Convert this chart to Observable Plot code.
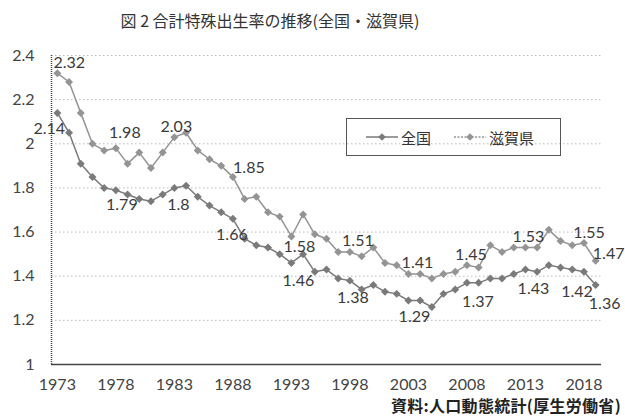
<!DOCTYPE html>
<html><head><meta charset="utf-8">
<script src="https://cdn.jsdelivr.net/npm/d3@7"></script>
<script src="https://cdn.jsdelivr.net/npm/@observablehq/plot@0.6"></script>
<style>
html,body{margin:0;padding:0;background:#fff;}
#wrap{position:relative;width:625px;height:418px;overflow:hidden;background:#fff;font-family:"Noto Sans CJK JP",sans-serif;color:#333;}
#title{position:absolute;left:0;top:9px;width:540px;text-align:center;font-size:16px;line-height:22px;}
#chart{position:absolute;left:0;top:40px;}
#caption{position:absolute;right:4px;top:396px;font-size:16px;font-weight:bold;line-height:18px;color:#222;white-space:nowrap;letter-spacing:0.3px;}
#legend{position:absolute;left:346px;top:118px;width:215px;height:38px;border:1.5px solid #555;box-sizing:border-box;font-size:15px;}
#legend .item{position:absolute;top:8px;display:flex;align-items:center;height:20px;}
</style></head>
<body><div id="wrap">
<div id="title">図 2 合計特殊出生率の推移(全国・滋賀県)</div>
<div id="chart"></div>
<div id="legend"></div>
<div id="caption">資料:人口動態統計(厚生労働省)</div>
</div>
<script>
const years = [1973,1974,1975,1976,1977,1978,1979,1980,1981,1982,1983,1984,1985,1986,1987,1988,1989,1990,1991,1992,1993,1994,1995,1996,1997,1998,1999,2000,2001,2002,2003,2004,2005,2006,2007,2008,2009,2010,2011,2012,2013,2014,2015,2016,2017,2018,2019];
const zenkoku = [2.14,2.05,1.91,1.85,1.80,1.79,1.77,1.75,1.74,1.77,1.80,1.81,1.76,1.72,1.69,1.66,1.57,1.54,1.53,1.50,1.46,1.50,1.42,1.43,1.39,1.38,1.34,1.36,1.33,1.32,1.29,1.29,1.26,1.32,1.34,1.37,1.37,1.39,1.39,1.41,1.43,1.42,1.45,1.44,1.43,1.42,1.36];
const shiga = [2.32,2.28,2.14,2.00,1.97,1.98,1.91,1.96,1.89,1.96,2.03,2.05,1.97,1.93,1.90,1.85,1.75,1.76,1.69,1.67,1.58,1.68,1.59,1.57,1.51,1.51,1.49,1.53,1.46,1.45,1.41,1.41,1.39,1.41,1.42,1.45,1.44,1.54,1.51,1.53,1.53,1.53,1.61,1.56,1.54,1.55,1.47];
const seriesNames = ["全国","滋賀県"];
const labelYears = [1973,1978,1983,1988,1993,1998,2003,2008,2013,2018,2019];
const xTicks = [1973,1978,1983,1988,1993,1998,2003,2008,2013,2018];
const yTicks = [1,1.2,1.4,1.6,1.8,2,2.2,2.4];

const rows = [];
years.forEach((y,i)=>{
  rows.push({year:y, value:zenkoku[i], series:seriesNames[0]});
  rows.push({year:y, value:shiga[i], series:seriesNames[1]});
});

// label placement (offsets from point, px)
const offsets = {
  "全国": {1973:[-8,16],1978:[6,15],1983:[4,17],1988:[-1,16],1993:[7,18],1998:[3,17],2003:[6,16],2008:[11,19],2013:[8,19],2018:[-7,20],2019:[9,19]},
  "滋賀県": {1973:[12,-10],1978:[9,-15],1983:[2,-10],1988:[16,-9],1993:[8,10],1998:[8,-11],2003:[9,-11],2008:[4,-10],2013:[3,-11],2018:[5,-10],2019:[13,-7]}
};
const lineColor = {"全国":"#7a7a7a","滋賀県":"#949494"};

const labelMarks = [];
for (const s of seriesNames) {
  for (const r of rows.filter(r => r.series === s && labelYears.includes(r.year))) {
    const [dx, dy] = offsets[s][r.year];
    labelMarks.push(Plot.text([r], {x:"year", y:"value", text: d => String(d.value), dx, dy,
      fill:"#3a3a3a", fontSize:16, textAnchor:"middle"}));
  }
}

const chart = Plot.plot({
  width: 625, height: 358,
  marginTop: 15, marginBottom: 34, marginLeft: 51, marginRight: 24,
  style: {fontFamily: "Lato, 'Liberation Sans', sans-serif", fontSize: "16px", color: "#444", background: "transparent"},
  x: {domain: [1972.5, 2019.5], ticks: xTicks, tickSize: 0, tickPadding: 14, tickFormat: d => String(d), label: null},
  y: {domain: [1, 2.4], ticks: yTicks, tickSize: 0, tickPadding: 17, tickFormat: d => String(d), label: null},
  marks: [
    Plot.ruleY(yTicks.filter(d => d > 1), {stroke: "#b8b8b8", strokeDasharray: "1.5,2.5", strokeWidth: 1}),
    Plot.ruleX([1972.5], {y1: 1, y2: 2.4, stroke: "#444", strokeDasharray: "1,1", strokeWidth: 1.5}),
    Plot.ruleY([1], {stroke: "#444", strokeWidth: 1.5}),
    Plot.line(rows, {x: "year", y: "value", z: "series", stroke: d => lineColor[d.series], strokeWidth: 1.5}),
    Plot.dot(rows, {x: "year", y: "value", symbol: "diamond2", r: 3.6, fill: d => lineColor[d.series], stroke: "none"}),
    ...labelMarks
  ]
});
document.getElementById("chart").appendChild(chart);

// legend
const leg = document.getElementById("legend");
const items = [
  {name: seriesNames[0], left: 19, dash: null},
  {name: seriesNames[1], left: 107, dash: "2,1.5"}
];
for (const it of items) {
  const div = document.createElement("div");
  div.className = "item";
  div.style.left = it.left + "px";
  div.innerHTML = `<svg width="32" height="12" style="margin-right:3px"><line x1="0" y1="6" x2="32" y2="6" stroke="${lineColor[it.name]}" stroke-width="1.5" ${it.dash?`stroke-dasharray="${it.dash}"`:""}/><path d="M16,2.2L19.8,6L16,9.8L12.2,6Z" fill="${lineColor[it.name]}"/></svg><span>${it.name}</span>`;
  leg.appendChild(div);
}
</script>
</body></html>
